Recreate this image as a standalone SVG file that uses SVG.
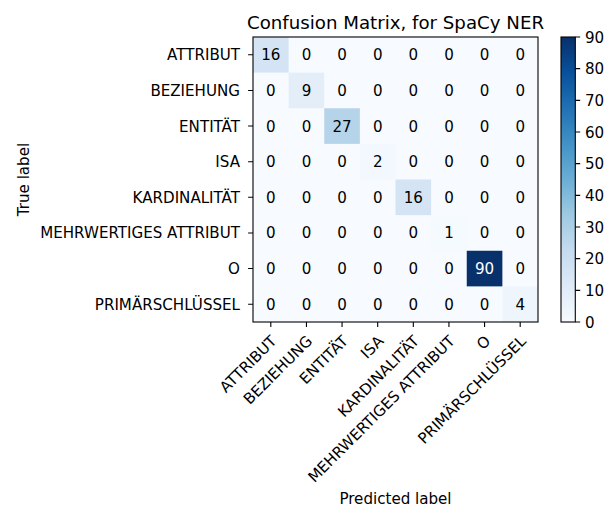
<svg xmlns="http://www.w3.org/2000/svg" width="611" height="510" viewBox="0 0 611 510">
<style>
text{font-family:"DejaVu Sans",sans-serif;fill:#000;font-size:15.1px}
.c{text-anchor:middle}
.yl{text-anchor:end}
.xl{text-anchor:end}
.tick{stroke:#000;stroke-width:1.1}
.spine{fill:none;stroke:#000;stroke-width:1.1}
</style>
<defs>
<linearGradient id="blues" x1="0" y1="1" x2="0" y2="0">
<stop offset="0" stop-color="#f7fbff"/>
<stop offset="0.125" stop-color="#deebf7"/>
<stop offset="0.25" stop-color="#c6dbef"/>
<stop offset="0.375" stop-color="#9ecae1"/>
<stop offset="0.5" stop-color="#6baed6"/>
<stop offset="0.625" stop-color="#4292c6"/>
<stop offset="0.75" stop-color="#2171b5"/>
<stop offset="0.875" stop-color="#08519c"/>
<stop offset="1" stop-color="#08306b"/>
</linearGradient>
</defs>
<rect width="611" height="510" fill="#fff"/>
<text x="395.5" y="29" style="font-size:18.2px;text-anchor:middle">Confusion Matrix, for SpaCy NER</text>
<g id="matrix">
<rect x="253" y="37" width="285" height="285" fill="#f7fbff"/>
<rect x="253" y="37" width="35.625" height="35.625" fill="#d4e4f4"/>
<rect x="288.625" y="72.625" width="35.625" height="35.625" fill="#e3eef9"/>
<rect x="324.25" y="108.25" width="35.625" height="35.625" fill="#b6d4e9"/>
<rect x="359.875" y="143.875" width="35.625" height="35.625" fill="#f3f8fe"/>
<rect x="395.5" y="179.5" width="35.625" height="35.625" fill="#d4e4f4"/>
<rect x="431.125" y="215.125" width="35.625" height="35.625" fill="#f5fafe"/>
<rect x="466.75" y="250.75" width="35.625" height="35.625" fill="#08306b"/>
<rect x="502.375" y="286.375" width="35.625" height="35.625" fill="#eef5fc"/>
<g class="vals">
<text class="c" x="270.81" y="60.3">16</text><text class="c" x="306.44" y="60.3">0</text><text class="c" x="342.06" y="60.3">0</text><text class="c" x="377.69" y="60.3">0</text><text class="c" x="413.31" y="60.3">0</text><text class="c" x="448.94" y="60.3">0</text><text class="c" x="484.56" y="60.3">0</text><text class="c" x="520.19" y="60.3">0</text>
<text class="c" x="270.81" y="95.9">0</text><text class="c" x="306.44" y="95.9">9</text><text class="c" x="342.06" y="95.9">0</text><text class="c" x="377.69" y="95.9">0</text><text class="c" x="413.31" y="95.9">0</text><text class="c" x="448.94" y="95.9">0</text><text class="c" x="484.56" y="95.9">0</text><text class="c" x="520.19" y="95.9">0</text>
<text class="c" x="270.81" y="131.6">0</text><text class="c" x="306.44" y="131.6">0</text><text class="c" x="342.06" y="131.6">27</text><text class="c" x="377.69" y="131.6">0</text><text class="c" x="413.31" y="131.6">0</text><text class="c" x="448.94" y="131.6">0</text><text class="c" x="484.56" y="131.6">0</text><text class="c" x="520.19" y="131.6">0</text>
<text class="c" x="270.81" y="167.2">0</text><text class="c" x="306.44" y="167.2">0</text><text class="c" x="342.06" y="167.2">0</text><text class="c" x="377.69" y="167.2">2</text><text class="c" x="413.31" y="167.2">0</text><text class="c" x="448.94" y="167.2">0</text><text class="c" x="484.56" y="167.2">0</text><text class="c" x="520.19" y="167.2">0</text>
<text class="c" x="270.81" y="202.8">0</text><text class="c" x="306.44" y="202.8">0</text><text class="c" x="342.06" y="202.8">0</text><text class="c" x="377.69" y="202.8">0</text><text class="c" x="413.31" y="202.8">16</text><text class="c" x="448.94" y="202.8">0</text><text class="c" x="484.56" y="202.8">0</text><text class="c" x="520.19" y="202.8">0</text>
<text class="c" x="270.81" y="238.4">0</text><text class="c" x="306.44" y="238.4">0</text><text class="c" x="342.06" y="238.4">0</text><text class="c" x="377.69" y="238.4">0</text><text class="c" x="413.31" y="238.4">0</text><text class="c" x="448.94" y="238.4">1</text><text class="c" x="484.56" y="238.4">0</text><text class="c" x="520.19" y="238.4">0</text>
<text class="c" x="270.81" y="274.1">0</text><text class="c" x="306.44" y="274.1">0</text><text class="c" x="342.06" y="274.1">0</text><text class="c" x="377.69" y="274.1">0</text><text class="c" x="413.31" y="274.1">0</text><text class="c" x="448.94" y="274.1">0</text><text class="c" x="484.56" y="274.1" style="fill:#fff">90</text><text class="c" x="520.19" y="274.1">0</text>
<text class="c" x="270.81" y="309.7">0</text><text class="c" x="306.44" y="309.7">0</text><text class="c" x="342.06" y="309.7">0</text><text class="c" x="377.69" y="309.7">0</text><text class="c" x="413.31" y="309.7">0</text><text class="c" x="448.94" y="309.7">0</text><text class="c" x="484.56" y="309.7">0</text><text class="c" x="520.19" y="309.7">4</text>
</g>
<rect class="spine" x="253" y="37" width="285" height="285"/>
</g>
<g id="yaxis">
<path class="tick" d="M248.1 54.81H253M248.1 90.44H253M248.1 126.06H253M248.1 161.69H253M248.1 197.31H253M248.1 232.94H253M248.1 268.56H253M248.1 304.19H253"/>
<text class="yl" x="240" y="60.3">ATTRIBUT</text>
<text class="yl" x="240" y="95.9">BEZIEHUNG</text>
<text class="yl" x="240" y="131.6">ENTITÄT</text>
<text class="yl" x="240" y="167.2">ISA</text>
<text class="yl" x="240" y="202.8">KARDINALITÄT</text>
<text class="yl" x="240" y="238.4">MEHRWERTIGES ATTRIBUT</text>
<text class="yl" x="240" y="274.1">O</text>
<text class="yl" x="240" y="309.7">PRIMÄRSCHLÜSSEL</text>
<text x="29" y="179.5" transform="rotate(-90 29 179.5)" style="text-anchor:middle">True label</text>
</g>
<g id="xaxis">
<path class="tick" d="M270.81 322V326.9M306.44 322V326.9M342.06 322V326.9M377.69 322V326.9M413.31 322V326.9M448.94 322V326.9M484.56 322V326.9M520.19 322V326.9"/>
<text class="xl" transform="translate(277.6 342) rotate(-45)">ATTRIBUT</text>
<text class="xl" transform="translate(313.2 342) rotate(-45)">BEZIEHUNG</text>
<text class="xl" transform="translate(348.9 342) rotate(-45)">ENTITÄT</text>
<text class="xl" transform="translate(384.5 342) rotate(-45)">ISA</text>
<text class="xl" transform="translate(420.1 342) rotate(-45)">KARDINALITÄT</text>
<text class="xl" transform="translate(455.7 342) rotate(-45)">MEHRWERTIGES ATTRIBUT</text>
<text class="xl" transform="translate(491.4 342) rotate(-45)">O</text>
<text class="xl" transform="translate(527 342) rotate(-45)">PRIMÄRSCHLÜSSEL</text>
<text x="395.5" y="504" style="text-anchor:middle">Predicted label</text>
</g>
<g id="colorbar">
<rect x="561" y="37" width="14.3" height="285" fill="url(#blues)"/>
<rect class="spine" x="561" y="37" width="14.3" height="285"/>
<path class="tick" d="M575.3 322H580.2M575.3 290.33H580.2M575.3 258.67H580.2M575.3 227H580.2M575.3 195.33H580.2M575.3 163.67H580.2M575.3 132H580.2M575.3 100.33H580.2M575.3 68.67H580.2M575.3 37H580.2"/>
<text x="585" y="327.5">0</text>
<text x="585" y="295.8">10</text>
<text x="585" y="264.2">20</text>
<text x="585" y="232.5">30</text>
<text x="585" y="200.8">40</text>
<text x="585" y="169.2">50</text>
<text x="585" y="137.5">60</text>
<text x="585" y="105.8">70</text>
<text x="585" y="74.2">80</text>
<text x="585" y="42.5">90</text>
</g>
</svg>
